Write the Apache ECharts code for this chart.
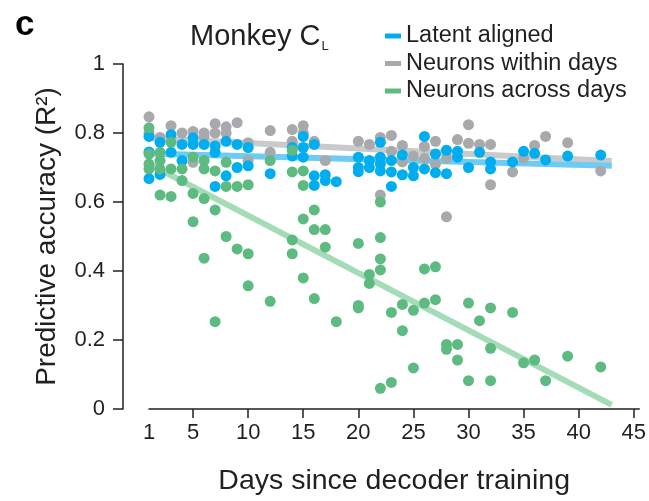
<!DOCTYPE html>
<html>
<head>
<meta charset="utf-8">
<script src="https://cdn.jsdelivr.net/npm/echarts@6/dist/echarts.min.js"></script>
<style>
  html, body { margin: 0; padding: 0; background: #fff; }
  #chart { width: 649px; height: 501px; }
</style>
</head>
<body>
<div id="chart"></div>
<script>
// Day labels shown under the x axis
const xTickValues = [1, 5, 10, 15, 20, 25, 30, 35, 40, 45];
const xTickMarks = [5, 10, 15, 20, 25, 30, 35, 40, 45];

// [day, R²] per session
const latentAligned = [
  [1,0.79],[1,0.745],[1,0.668],[2,0.773],[2,0.68],[3,0.795],[3,0.744],
  [4,0.767],[4,0.72],[5,0.786],[5,0.767],[6,0.767],[7,0.762],[7,0.744],[7,0.645],
  [8,0.776],[8,0.676],[9,0.767],[9,0.70],[10,0.758],[10,0.705],[12,0.682],
  [14,0.758],[14,0.733],[15,0.79],[15,0.758],[15,0.73],[16,0.767],[16,0.676],[16,0.648],
  [17,0.679],[17,0.662],[18,0.659],[20,0.73],[20,0.70],[20,0.688],[21,0.72],[21,0.70],
  [22,0.773],[22,0.73],[22,0.71],[22,0.69],[23,0.72],[23,0.687],[23,0.645],
  [24,0.736],[24,0.679],[25,0.70],[25,0.676],[26,0.79],[26,0.696],[27,0.739],[27,0.685],
  [28,0.75],[28,0.682],[29,0.747],[29,0.73],[30,0.70],[31,0.744],[32,0.716],[32,0.696],
  [34,0.716],[35,0.747],[36,0.741],[37,0.722],[39,0.733],[42,0.736]
];

const neuronsWithin = [
  [1,0.847],[1,0.80],[2,0.787],[3,0.821],[4,0.80],[5,0.804],[5,0.715],[6,0.80],[6,0.79],
  [7,0.827],[7,0.80],[8,0.818],[8,0.80],[9,0.83],[10,0.772],[10,0.72],[12,0.807],[12,0.744],
  [14,0.81],[14,0.776],[15,0.821],[15,0.80],[16,0.776],[17,0.72],[20,0.776],[21,0.767],
  [22,0.787],[22,0.62],[23,0.793],[23,0.747],[24,0.764],[24,0.716],[25,0.733],
  [26,0.761],[26,0.727],[27,0.776],[27,0.71],[28,0.727],[28,0.557],[29,0.781],
  [30,0.824],[30,0.77],[31,0.767],[32,0.767],[32,0.65],[34,0.687],[35,0.727],
  [36,0.764],[37,0.79],[39,0.772],[42,0.69]
];

const neuronsAcross = [
  [1,0.815],[1,0.739],[1,0.71],[1,0.696],[2,0.744],[2,0.72],[2,0.696],[2,0.62],
  [3,0.773],[3,0.696],[3,0.616],[4,0.696],[4,0.662],[5,0.73],[5,0.625],[5,0.543],
  [6,0.72],[6,0.696],[6,0.61],[6,0.437],[7,0.69],[7,0.577],[7,0.253],
  [8,0.715],[8,0.645],[8,0.50],[9,0.645],[9,0.464],[10,0.65],[10,0.45],[10,0.357],
  [12,0.72],[12,0.312],[14,0.75],[14,0.687],[14,0.49],[14,0.45],
  [15,0.69],[15,0.648],[15,0.551],[15,0.38],[16,0.577],[16,0.52],[16,0.32],
  [17,0.52],[17,0.469],[18,0.253],[20,0.48],[20,0.30],[20,0.293],[21,0.39],[21,0.364],
  [22,0.60],[22,0.497],[22,0.435],[22,0.403],[22,0.06],[23,0.28],[23,0.077],
  [24,0.303],[24,0.227],[25,0.286],[25,0.119],[26,0.406],[26,0.307],[27,0.412],[27,0.317],
  [28,0.187],[28,0.173],[29,0.187],[29,0.142],[30,0.307],[30,0.082],[31,0.256],
  [32,0.293],[32,0.176],[32,0.082],[34,0.28],[35,0.134],[36,0.142],[37,0.082],
  [39,0.153],[42,0.122]
];

// Linear fits (start and end of each fitted line)
const latentFit  = [[0, 0.741], [43, 0.705]];
const withinFit  = [[0, 0.787], [43, 0.719]];
const acrossFit  = [[0, 0.727], [43, 0.012]];

const BLUE = '#00AEEF', GRAY = '#A7A9AC', GREEN = '#5DBB82';
const INK = '#231F20';
const FONT = '"Liberation Sans", Arial, Helvetica, sans-serif';

const chart = echarts.init(document.getElementById('chart'), null, { renderer: 'canvas' });

function fitLine(name, data, color) {
  return {
    name: name + ' fit', type: 'line', data: data, clip: false,
    symbol: 'none', silent: true, z: 1,
    lineStyle: { color: color, width: 6 },
    emphasis: { disabled: true }
  };
}
function dots(name, data, color, z) {
  return {
    name: name, type: 'scatter', data: data, z: z,
    symbol: 'circle', symbolSize: 11,
    itemStyle: { color: color, opacity: 1 }
  };
}

chart.setOption({
  animation: false,
  backgroundColor: '#fff',
  textStyle: { fontFamily: FONT, color: INK },
  title: [
    { text: 'c', left: 10, top: 3, textStyle: { fontFamily: FONT, fontWeight: 'bold', fontSize: 35, color: '#000' } },
    {
      text: '{a|Monkey C}{b|L}', left: 185, top: 15,
      textStyle: {
        fontWeight: 'normal',
        rich: {
          a: { fontFamily: FONT, fontWeight: 'normal', fontSize: 29, color: INK },
          b: { fontFamily: FONT, fontWeight: 'normal', fontSize: 13, color: INK, padding: [20, 0, 0, 1] }
        }
      }
    }
  ],
  legend: {
    orient: 'vertical', left: 380, top: 19,
    icon: 'rect', itemWidth: 16, itemHeight: 5, itemGap: 3.5,
    data: ['Latent aligned', 'Neurons within days', 'Neurons across days'],
    textStyle: { fontFamily: FONT, fontSize: 23.5, color: INK, lineHeight: 24 },
    selectedMode: false
  },
  grid: { left: 149, right: 9.5, top: 64, bottom: 85, containLabel: false },
  xAxis: {
    type: 'value', min: 1, max: 45.5,
    name: 'Days since decoder training', nameLocation: 'middle', nameGap: 58,
    nameTextStyle: { fontFamily: FONT, fontSize: 28.5, color: INK },
    axisLine: { show: true, lineStyle: { color: INK, width: 1.5 } },
    axisTick: { show: true, length: 9, customValues: xTickMarks, lineStyle: { color: INK, width: 1.5 } },
    axisLabel: { customValues: xTickValues, margin: 13, fontFamily: FONT, fontSize: 22, color: INK },
    splitLine: { show: false }
  },
  yAxis: {
    type: 'value', min: 0, max: 1, interval: 0.2, offset: 26,
    name: 'Predictive accuracy (R²)', nameLocation: 'middle', nameGap: 62,
    nameTextStyle: { fontFamily: FONT, fontSize: 28, color: INK },
    axisLine: { show: true, lineStyle: { color: INK, width: 1.5 } },
    axisTick: { show: true, length: 10, lineStyle: { color: INK, width: 1.5 } },
    axisLabel: { margin: 18, fontFamily: FONT, fontSize: 22, color: INK },
    splitLine: { show: false }
  },
  series: [
    fitLine('Neurons within days', withinFit, '#C9CACC'),
    fitLine('Latent aligned', latentFit, '#6FCBF1'),
    fitLine('Neurons across days', acrossFit, '#A5DCB8'),
    dots('Neurons within days', neuronsWithin, GRAY, 2),
    dots('Latent aligned', latentAligned, BLUE, 3),
    dots('Neurons across days', neuronsAcross, GREEN, 4)
  ]
});
</script>
</body>
</html>
